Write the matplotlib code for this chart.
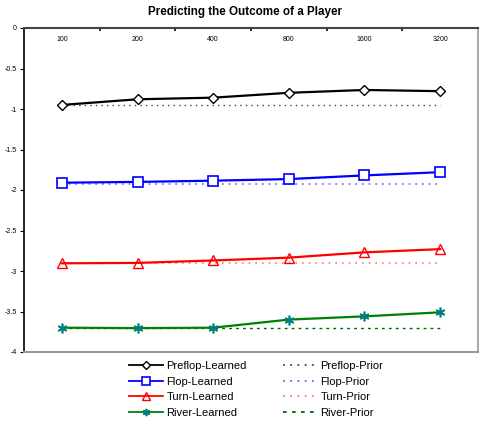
import matplotlib.pyplot as plt
import numpy as np

plt.rcParams['font.family'] = ['Liberation Sans', 'DejaVu Sans']

# training set sizes (category axis)
sizes = ['100', '200', '400', '800', '1600', '3200']

preflop_learned = [-0.95, -0.88, -0.86, -0.80, -0.765, -0.78]
flop_learned = [-1.91, -1.90, -1.885, -1.865, -1.82, -1.78]
turn_learned = [-2.905, -2.90, -2.87, -2.835, -2.77, -2.73]
river_learned = [-3.70, -3.705, -3.70, -3.60, -3.56, -3.51]

preflop_prior = -0.95
flop_prior = -1.92
turn_prior = -2.90
river_prior = -3.70

x = np.arange(len(sizes))

fig = plt.figure(figsize=(4.84, 4.26), dpi=100)
ax = fig.add_axes([24 / 484, 1 - 352 / 426, (478 - 24) / 484, (352 - 28) / 426])

ax.plot(x, preflop_learned, color='black', lw=1.6, marker='D', ms=5.5,
        mfc='white', mec='black', mew=1, label='Preflop-Learned', zorder=4)
ax.plot(x, flop_learned, color='blue', lw=1.6, marker='s', ms=7,
        mfc='white', mec='blue', mew=1.2, label='Flop-Learned', zorder=4)
ax.plot(x, turn_learned, color='red', lw=1.6, marker='^', ms=7,
        mfc='none', mec='red', mew=1, label='Turn-Learned', zorder=4)
ax.plot(x, river_learned, color='green', lw=1.6, marker=(6, 2, 0), ms=7,
        mec='teal', mew=1.2, label='River-Learned', zorder=4)

ax.plot(x, [preflop_prior] * len(x), color='#444444', ls=(0, (1, 3)), lw=1,
        label='Preflop-Prior', zorder=3)
ax.plot(x, [flop_prior] * len(x), color='#6666ff', ls=(0, (1, 3)), lw=1.2,
        label='Flop-Prior', zorder=3)
ax.plot(x, [turn_prior] * len(x), color='#ff7777', ls=(0, (1, 3)), lw=1.2,
        label='Turn-Prior', zorder=3)
ax.plot(x, [river_prior] * len(x), color='#006600', ls=(0, (2, 3)), lw=1,
        label='River-Prior', zorder=3)

ax.set_xlim(-0.5, len(x) - 0.5)
ax.set_ylim(-4, 0)

# category labels sit just under the zero line
ax.xaxis.tick_top()
ax.set_xticks(x)
ax.set_xticklabels(sizes)
ax.tick_params(axis='x', which='major', length=0, labelsize=5, pad=-11)
ax.set_xticks(x[:-1] + 0.5, minor=True)
ax.tick_params(axis='x', which='minor', direction='in', length=2, width=1.2)

ax.set_yticks(np.arange(-4, 0.01, 0.5))
ax.set_yticklabels(['-4', '-3.5', '-3', '-2.5', '-2', '-1.5', '-1', '-0.5', '0'])
ax.tick_params(axis='y', direction='out', length=3, labelsize=5, pad=2)

ax.spines['top'].set_color('#444444')
ax.spines['top'].set_linewidth(1.5)
ax.spines['left'].set_color('black')
ax.spines['left'].set_linewidth(1.2)
ax.spines['right'].set_color('#999999')
ax.spines['right'].set_linewidth(1.2)
ax.spines['bottom'].set_color('#999999')
ax.spines['bottom'].set_linewidth(1.5)

fig.text(245 / 484, 1 - 12 / 426, 'Predicting the Outcome of a Player',
         ha='center', va='center', fontsize=8.4, fontweight='bold')

leg = fig.legend(loc='upper center', bbox_to_anchor=(256 / 484, 1 - 361 / 426),
                 ncol=2, frameon=False, fontsize=8, labelspacing=0.5,
                 handlelength=3.1, handletextpad=0.3, columnspacing=3.2,
                 markerscale=0.75, borderaxespad=0, borderpad=0)
for line in leg.get_lines():
    line.set_linewidth(1.3)

fig.savefig('out.png', dpi=100)
